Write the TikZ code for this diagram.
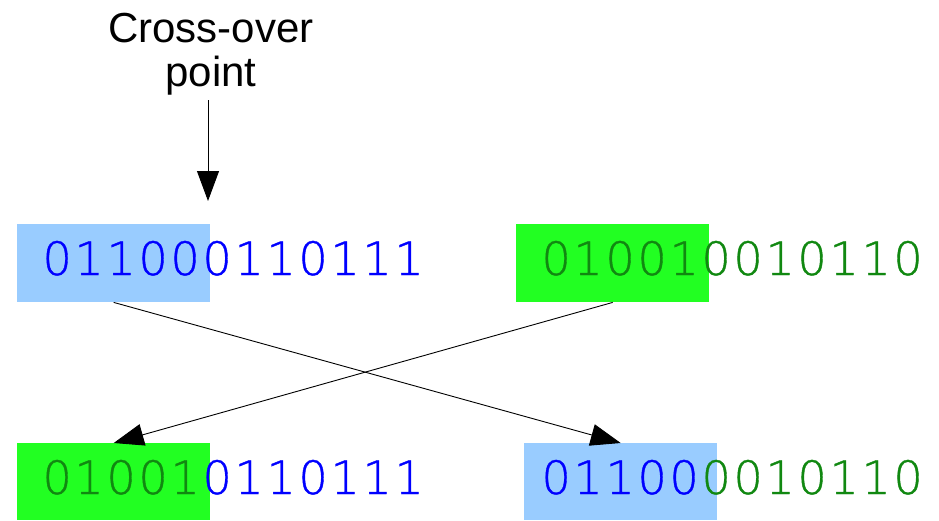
\documentclass[tikz,border=0pt]{standalone}
\usepackage{fontspec}
\setmainfont{Liberation Sans}
\newfontfamily\bitsfont[FakeBold=0.8]{DejaVu Sans ExtraLight}
\usetikzlibrary{arrows.meta}
\definecolor{cellblue}{RGB}{153,204,255}
\definecolor{cellgreen}{RGB}{34,255,34}
\definecolor{bitblue}{RGB}{0,0,255}
\definecolor{bitgreen}{RGB}{17,136,17}

% every bit gets a cell of the same width
\def\bitsloop#1{\ifx#1\relax\else\makebox[32pt]{#1}\expandafter\bitsloop\fi}
\newcommand\bitstr[1]{\bitsloop#1\relax}

\begin{document}
\begin{tikzpicture}[x=1pt,y=-1pt,
  cell/.style={rectangle, draw=none, inner sep=0pt, minimum width=193pt, minimum height=78pt, anchor=north west},
  bits/.style={inner sep=0pt, anchor=base west, font=\bitsfont\fontsize{46}{46}\selectfont},
  link/.style={line width=0.9pt, -{Triangle[length=30pt,width=22pt]}},
]
\useasboundingbox (0,0) rectangle (939,520);

% parent chromosomes with their head segments shaded
\node[cell, fill=cellblue]  (pa) at (17,224) {};
\node[cell, fill=cellgreen] (pb) at (516,224) {};
\node[bits, text=bitblue]  (sa) at (41,275)  {\bitstr{011000110111}};
\node[bits, text=bitgreen] (sb) at (540,275) {\bitstr{010010010110}};

% offspring chromosomes
\node[cell, fill=cellgreen, minimum height=77pt] (ca) at (17,443) {};
\node[cell, fill=cellblue,  minimum height=77pt] (cb) at (524,443) {};
\node[bits] (sc) at (41,494)  {\textcolor{bitgreen}{\bitstr{01001}}\textcolor{bitblue}{\bitstr{0110111}}};
\node[bits] (sd) at (540,494) {\textcolor{bitblue}{\bitstr{01100}}\textcolor{bitgreen}{\bitstr{0010110}}};

% cross-over marker
\node[font=\fontsize{42}{44}\selectfont, align=center, anchor=base, inner sep=0pt] (lbl) at (211,86) {Cross-over\\point};
\coordinate (cutTop) at (208,100);
\coordinate (cut) at (208,201);
\draw[link] (cutTop) -- (cut);

% exchange of the head segments
\draw[link] (pa.south) -- (cb.north);
\draw[link] (pb.south) -- (ca.north);
\end{tikzpicture}
\end{document}
